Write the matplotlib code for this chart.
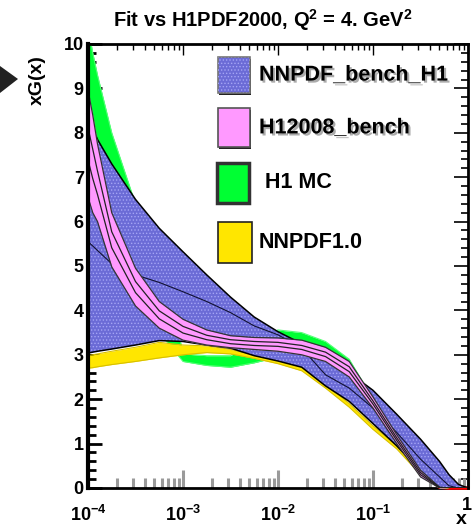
import numpy as np
import matplotlib
matplotlib.use('Agg')
import matplotlib.pyplot as plt
import matplotlib.patheffects as pe
from matplotlib.patches import Rectangle, Polygon
from matplotlib.ticker import AutoMinorLocator, NullFormatter

plt.rcParams['font.family'] = ['Liberation Sans', 'DejaVu Sans']
plt.rcParams['font.weight'] = 'bold'
plt.rcParams['mathtext.fontset'] = 'custom'
plt.rcParams['mathtext.rm'] = 'Liberation Sans:bold'
plt.rcParams['mathtext.bf'] = 'Liberation Sans:bold'
plt.rcParams['hatch.linewidth'] = 0.6

# x grid as log10(x)
log_x = [-4.0, -3.95, -3.9, -3.75, -3.5, -3.25, -3.0, -2.75, -2.5, -2.25, -2.0,
         -1.75, -1.5, -1.25, -1.0, -0.75, -0.5, -0.3, -0.2, -0.1, 0.0]

# NNPDF_bench_H1 (blue band)
blue_up = [8.3, 8.1, 7.85, 7.3, 6.5, 5.85, 5.32, 4.8, 4.3, 3.85, 3.52,
           3.25, 3.0, 2.6, 2.2, 1.66, 1.1, 0.6, 0.3, 0.08, 0.0]
blue_mid = [5.55, 5.45, 5.35, 5.05, 4.8, 4.63, 4.42, 4.2, 3.95, 3.65, 3.45,
            3.15, 2.55, 2.25, 1.8, 1.25, 0.65, 0.25, 0.05, 0.0, 0.0]
blue_lo = [3.04, 3.06, 3.08, 3.13, 3.22, 3.32, 3.3, 3.22, 3.15, 2.98, 2.86,
           2.72, 2.3, 1.95, 1.45, 0.95, 0.38, 0.0, 0.0, 0.0, 0.0]

# H12008_bench (pink band)
pink_up = [8.96, 8.4, 7.75, 6.2, 4.95, 4.2, 3.8, 3.56, 3.43, 3.39, 3.38,
           3.33, 3.17, 2.85, 2.05, 1.2, 0.4, 0.02, 0.0, 0.0, 0.0]
pink_in_hi = [8.12, 7.63, 7.14, 5.77, 4.65, 3.99, 3.64, 3.44, 3.34, 3.30, 3.28,
              3.21, 3.06, 2.73, 1.96, 1.13, 0.35, 0.01, 0.0, 0.0, 0.0]
pink_in_lo = [7.39, 6.97, 6.61, 5.41, 4.40, 3.81, 3.49, 3.34, 3.25, 3.21, 3.19,
              3.12, 2.96, 2.62, 1.89, 1.07, 0.30, 0.01, 0.0, 0.0, 0.0]
pink_lo = [6.55, 6.2, 6.0, 4.98, 4.1, 3.6, 3.33, 3.22, 3.16, 3.12, 3.08,
           3.0, 2.85, 2.5, 1.8, 1.0, 0.25, 0.0, 0.0, 0.0, 0.0]

# H1 MC (green band) and its central line (red)
green_up = [10.4, 9.8, 9.3, 8.0, 6.4, 5.6, 3.02, 2.98, 2.98, 3.3, 3.56,
            3.5, 3.3, 2.9, 2.0, 1.2, 0.45, 0.05, 0.0, 0.0, 0.0]
green_lo = [6.5, 6.2, 5.9, 5.0, 4.1, 3.5, 2.85, 2.76, 2.72, 2.82, 2.95,
            2.9, 2.6, 2.2, 1.6, 1.0, 0.3, 0.0, 0.0, 0.0, 0.0]
red_mid = [8.4, 8.0, 7.6, 6.5, 5.3, 4.5, 2.93, 2.87, 2.85, 3.06, 3.25,
           3.2, 2.95, 2.55, 1.8, 1.1, 0.38, 0.02, 0.0, 0.0, 0.0]

# NNPDF1.0 (yellow band)
yellow_up = [2.98, 3.0, 3.02, 3.08, 3.17, 3.28, 3.22, 3.2, 3.12, 3.0, 2.95,
             2.72, 2.35, 1.9, 1.4, 0.95, 0.38, 0.05, 0.0, 0.0, 0.0]
yellow_lo = [2.70, 2.71, 2.73, 2.78, 2.85, 2.93, 3.0, 3.05, 3.02, 2.92, 2.8,
             2.64, 2.25, 1.82, 1.32, 0.88, 0.3, 0.02, 0.0, 0.0, 0.0]

legend_labels = ['NNPDF_bench_H1', 'H12008_bench', 'H1 MC', 'NNPDF1.0']
x_tick_labels = ['$\\mathbf{10^{-4}}$', '$\\mathbf{10^{-3}}$',
                 '$\\mathbf{10^{-2}}$', '$\\mathbf{10^{-1}}$', '']

BLUE = '#6b6bd6'
PINK = '#ff99ff'
GREEN = '#00ff33'
YELLOW = '#ffe600'

x = 10.0 ** np.array(log_x)

fig = plt.figure(figsize=(4.73, 5.31), dpi=100)
ax = fig.add_axes([88 / 473, 1 - 488 / 531, 380 / 473, 444 / 531])
ax.set_xscale('log')

# green replicas band, red central underneath
ax.plot(x, red_mid, color='red', lw=2.5, zorder=1.9, clip_on=False)
ax.fill_between(x, green_lo, green_up, color=GREEN, lw=0, zorder=2)
ax.plot(x, green_up, color='#55ff77', lw=0.8, zorder=2)
ax.plot(x, green_lo, color='#55ff77', lw=0.8, zorder=2)

# yellow band
ax.fill_between(x, yellow_lo, yellow_up, color=YELLOW, lw=0, zorder=3)
ax.plot(x, yellow_up, color='#d8c000', lw=0.8, zorder=3)
ax.plot(x, yellow_lo, color='#d8c000', lw=0.8, zorder=3)

# blue band with dotted texture
ax.fill_between(x, blue_lo, blue_up, facecolor=BLUE, lw=0, zorder=4)
ax.fill_between(x, blue_lo, blue_up, facecolor='none', edgecolor='#a5a5f5',
                hatch='.....', lw=0, zorder=4)
for yy in (blue_up, blue_lo):
    ax.plot(x, yy, color='k', lw=1.1, zorder=4.5)
ax.plot(x, blue_mid, color='#111133', lw=0.8, zorder=4.5)

# pink band
ax.fill_between(x, pink_lo, pink_up, color=PINK, lw=0, zorder=5)
for yy in (pink_up, pink_lo):
    ax.plot(x, yy, color='#333333', lw=0.9, zorder=5.5)
for yy in (pink_in_hi, pink_in_lo):
    ax.plot(x, yy, color='#222222', lw=0.9, zorder=5.5)

ax.set_xlim(1e-4, 1)
ax.set_ylim(0, 10)

# axes and ticks, ROOT look
for side in ['top', 'bottom', 'left', 'right']:
    ax.spines[side].set_linewidth(2)
    ax.spines[side].set_zorder(6)
ax.spines['left'].set_linewidth(3)
ax.spines['bottom'].set_zorder(1.8)

ax.set_xticks([1e-4, 1e-3, 1e-2, 1e-1, 1])
ax.set_xticklabels(x_tick_labels)
ax.set_yticks(range(0, 11))
ax.yaxis.set_minor_locator(AutoMinorLocator(5))
ax.xaxis.set_minor_formatter(NullFormatter())
ax.tick_params(axis='x', which='both', direction='in', color='#9a9a9a',
               width=2.2, top=False, labelsize=13, pad=12)
ax.tick_params(axis='x', which='major', length=13)
ax.tick_params(axis='x', which='minor', length=7)
ax.tick_params(axis='y', which='both', direction='in', color='k',
               width=2, right=False, labelsize=13, pad=3)
ax.tick_params(axis='y', which='major', length=10)
ax.tick_params(axis='y', which='minor', length=6)

top = ax.secondary_xaxis('top')
top.tick_params(which='both', direction='in', color='k', width=1,
                labeltop=False)
top.tick_params(which='major', length=8)
top.tick_params(which='minor', length=4)
top.spines['top'].set_visible(False)

right = ax.secondary_yaxis('right')
right.set_yticks(range(0, 11))
right.yaxis.set_minor_locator(AutoMinorLocator(5))
right.tick_params(which='both', direction='in', color='k', width=1.2,
                  labelright=False)
right.tick_params(which='major', length=10)
right.tick_params(which='minor', length=5)
right.spines['right'].set_visible(False)

# legend boxes drawn by hand
boxes = [
    (0.342, 0.890, 0.084, 0.081, BLUE, '#777777', 1.2),
    (0.342, 0.768, 0.084, 0.088, PINK, '#555555', 1.2),
    (0.339, 0.642, 0.084, 0.090, GREEN, '#333333', 2.5),
    (0.342, 0.507, 0.089, 0.092, YELLOW, '#222222', 1.2),
]
for i, (bx, by, bw, bh, fc, ec, lw) in enumerate(boxes):
    if i < 2:
        ax.add_patch(Rectangle((bx + 0.004, by - 0.005), bw, bh,
                               transform=ax.transAxes, facecolor='#222222',
                               lw=0, zorder=9))
    ax.add_patch(Rectangle((bx, by), bw, bh, transform=ax.transAxes,
                           facecolor=fc, edgecolor=ec, lw=lw, zorder=10))
    if i == 0:
        ax.add_patch(Rectangle((bx, by), bw, bh, transform=ax.transAxes,
                               facecolor='none', edgecolor='#a5a5f5',
                               hatch='.....', lw=0, zorder=10))

label_pos = [(0.450, 0.930), (0.450, 0.811), (0.466, 0.687), (0.450, 0.552)]
shadow = [pe.withSimplePatchShadow(offset=(1.5, -1.5), shadow_rgbFace='0.45',
                                   alpha=0.6)]
for i, (lab, (tx, ty)) in enumerate(zip(legend_labels, label_pos)):
    ax.text(tx, ty, lab, transform=ax.transAxes, ha='left', va='center',
            fontsize=15.5, weight='bold', zorder=11,
            path_effects=shadow if i < 2 else None)

# texts around the frame
fig.text(263 / 473, 1 - 20 / 531,
         'Fit vs H1PDF2000, Q$^{\\mathbf{2}}$ = 4. GeV$^{\\mathbf{2}}$',
         ha='center', va='center', fontsize=14.5, weight='bold')
fig.text(37 / 473, 1 - 80 / 531, 'xG(x)', rotation=90, ha='center',
         va='center', fontsize=14, weight='bold')
fig.text(467 / 473, 1 - 505 / 531, '1', ha='center', va='center',
         fontsize=13, weight='bold')
fig.text(461 / 473, 1 - 519 / 531, 'x', ha='center', va='center',
         fontsize=14, weight='bold')

# slide arrow at the left edge
fig.patches.append(Polygon([(0, 1 - 66 / 531), (18 / 473, 1 - 79 / 531),
                            (0, 1 - 93 / 531)], closed=True,
                           transform=fig.transFigure, facecolor='#222222',
                           edgecolor='none'))

fig.savefig('out.png', dpi=100)
